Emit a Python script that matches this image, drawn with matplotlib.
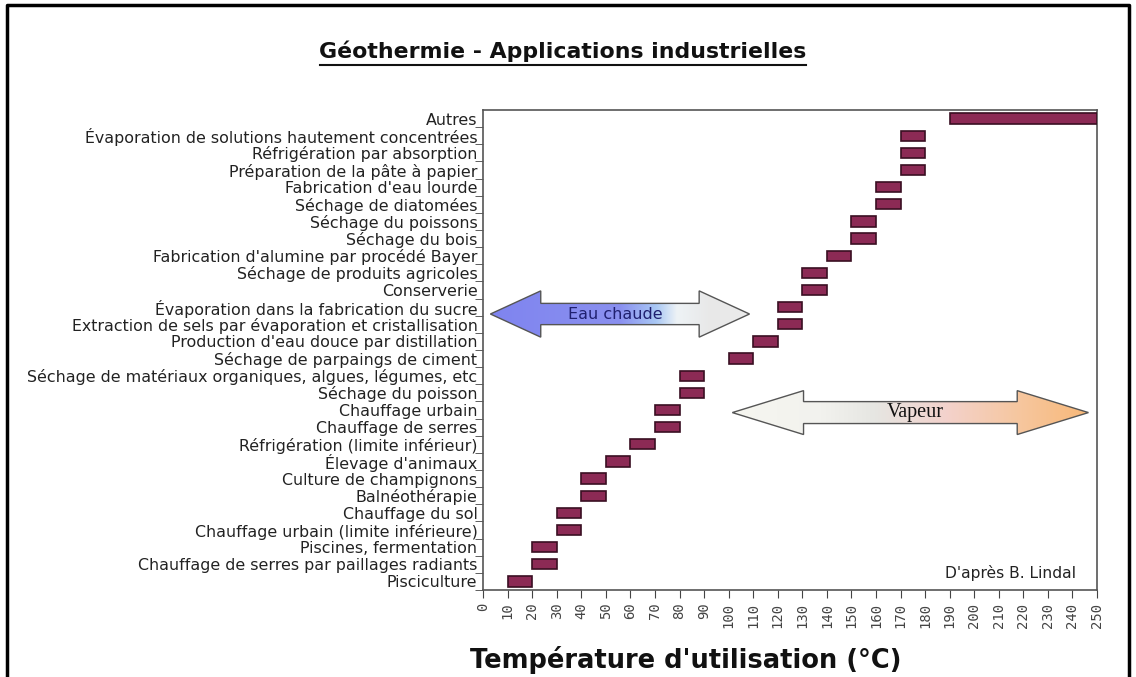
import numpy as np
import matplotlib
matplotlib.use("Agg")
import matplotlib.pyplot as plt
from matplotlib.patches import Polygon
from matplotlib.colors import LinearSegmentedColormap
from matplotlib.lines import Line2D

# applications, bottom to top, with temperature range (°C)
applications = [
    "Pisciculture",
    "Chauffage de serres par paillages radiants",
    "Piscines, fermentation",
    "Chauffage urbain (limite inférieure)",
    "Chauffage du sol",
    "Balnéothérapie",
    "Culture de champignons",
    "Élevage d'animaux",
    "Réfrigération (limite inférieur)",
    "Chauffage de serres",
    "Chauffage urbain",
    "Séchage du poisson",
    "Séchage de matériaux organiques, algues, légumes, etc",
    "Séchage de parpaings de ciment",
    "Production d'eau douce par distillation",
    "Extraction de sels par évaporation et cristallisation",
    "Évaporation dans la fabrication du sucre",
    "Conserverie",
    "Séchage de produits agricoles",
    "Fabrication d'alumine par procédé Bayer",
    "Séchage du bois",
    "Séchage du poissons",
    "Séchage de diatomées",
    "Fabrication d'eau lourde",
    "Préparation de la pâte à papier",
    "Réfrigération par absorption",
    "Évaporation de solutions hautement concentrées",
    "Autres",
]
t_min = [10, 20, 20, 30, 30, 40, 40, 50, 60, 70, 70, 80, 80, 100, 110, 120, 120,
         130, 130, 140, 150, 150, 160, 160, 170, 170, 170, 190]
t_max = [20, 30, 30, 40, 40, 50, 50, 60, 70, 80, 80, 90, 90, 110, 120, 130, 130,
         140, 140, 150, 160, 160, 170, 170, 180, 180, 180, 250]

x_ticks = list(range(0, 251, 10))

# fluid zones: label, start, end (°C), row position
zone_labels = ["Eau chaude", "Vapeur"]
zone_start = [3, 101.5]
zone_end = [108.5, 246.5]
zone_row = [15.6, 9.85]

fig = plt.figure(figsize=(11.36, 6.77), dpi=100)
ax = fig.add_axes([0.4252, 0.1285, 0.5405, 0.709])

y = np.arange(len(applications))
widths = np.array(t_max) - np.array(t_min)
ax.barh(y, widths, left=t_min, height=0.6, color="#8c2a55",
        edgecolor="#3a0f22", linewidth=1.2, zorder=3)

ax.set_xlim(0, 250)
ax.set_ylim(-0.5, len(applications) - 0.5)
ax.set_xticks(x_ticks)
ax.set_xticklabels([str(v) for v in x_ticks], rotation=90,
                   fontsize=10, color="#444444", family="DejaVu Sans Mono")
ax.set_yticks(y)
ax.set_yticklabels(applications, fontsize=11.4, color="#222222")
ax.tick_params(axis="y", length=0, pad=4)
ax.set_yticks(y - 0.5, minor=True)
ax.tick_params(axis="y", which="minor", length=6, color="#444444")
ax.tick_params(axis="x", length=6, color="#444444", pad=3)
for s in ax.spines.values():
    s.set_color("#555555")
    s.set_linewidth(1.2)


def draw_arrow(x0, x1, yc, head_len, head_h, shaft_h, colors, stops):
    pts = [(x0, yc), (x0 + head_len, yc + head_h), (x0 + head_len, yc + shaft_h),
           (x1 - head_len, yc + shaft_h), (x1 - head_len, yc + head_h), (x1, yc),
           (x1 - head_len, yc - head_h), (x1 - head_len, yc - shaft_h),
           (x0 + head_len, yc - shaft_h), (x0 + head_len, yc - head_h)]
    poly = Polygon(pts, closed=True, facecolor="none", edgecolor="#555555",
                   linewidth=1.0, zorder=5)
    ax.add_patch(poly)
    cmap = LinearSegmentedColormap.from_list("g", list(zip(stops, colors)))
    grad = np.linspace(0, 1, 256).reshape(1, -1)
    im = ax.imshow(grad, cmap=cmap, aspect="auto", zorder=4,
                   extent=[x0, x1, yc - head_h, yc + head_h])
    im.set_clip_path(poly)


draw_arrow(zone_start[0], zone_end[0], zone_row[0], 20.5, 1.35, 0.62,
           ["#7f84ef", "#8a90f0", "#a9c8f4", "#eef3f6", "#e8e8e8", "#ececec"],
           [0, 0.5, 0.64, 0.72, 0.85, 1])
draw_arrow(zone_start[1], zone_end[1], zone_row[1], 29, 1.28, 0.64,
           ["#f6f6f0", "#f2f2ee", "#e6e6e2", "#f3d2cc", "#f6c7a0", "#f8b878"],
           [0, 0.25, 0.4, 0.6, 0.8, 1])
ax.set_xlim(0, 250)
ax.set_ylim(-0.5, len(applications) - 0.5)
ax.text((zone_start[0] + zone_end[0]) / 2 - 2, zone_row[0], zone_labels[0],
        ha="center", va="center", fontsize=11.5, color="#202070", zorder=6)
ax.text((zone_start[1] + zone_end[1]) / 2 + 2, zone_row[1], zone_labels[1],
        ha="center", va="center", fontsize=14.5, color="#111111",
        family="Liberation Serif", zorder=6)

ax.text(0.965, 0.035, "D'après B. Lindal", transform=ax.transAxes, ha="right",
        va="center", fontsize=11.2, color="#222222")

# title with underline
fig.text(563 / 1136, 1 - 51 / 677, "Géothermie - Applications industrielles",
         ha="center", va="center", fontsize=15.8, fontweight="bold", color="#111111")
fig.add_artist(Line2D([320 / 1136, 806 / 1136], [1 - 65 / 677, 1 - 65 / 677],
                      color="#111111", linewidth=1.5))

fig.text(686 / 1136, 1 - 660 / 677, "Température d'utilisation (°C)",
         ha="center", va="center", fontsize=18.5, fontweight="bold", color="#111111")

# outer frame
fig.add_artist(Line2D([7 / 1136, 7 / 1136, 1129 / 1136, 1129 / 1136],
                      [0, 1 - 5 / 677, 1 - 5 / 677, 0], color="black", linewidth=2.5))

fig.savefig("out.png", dpi=100)
